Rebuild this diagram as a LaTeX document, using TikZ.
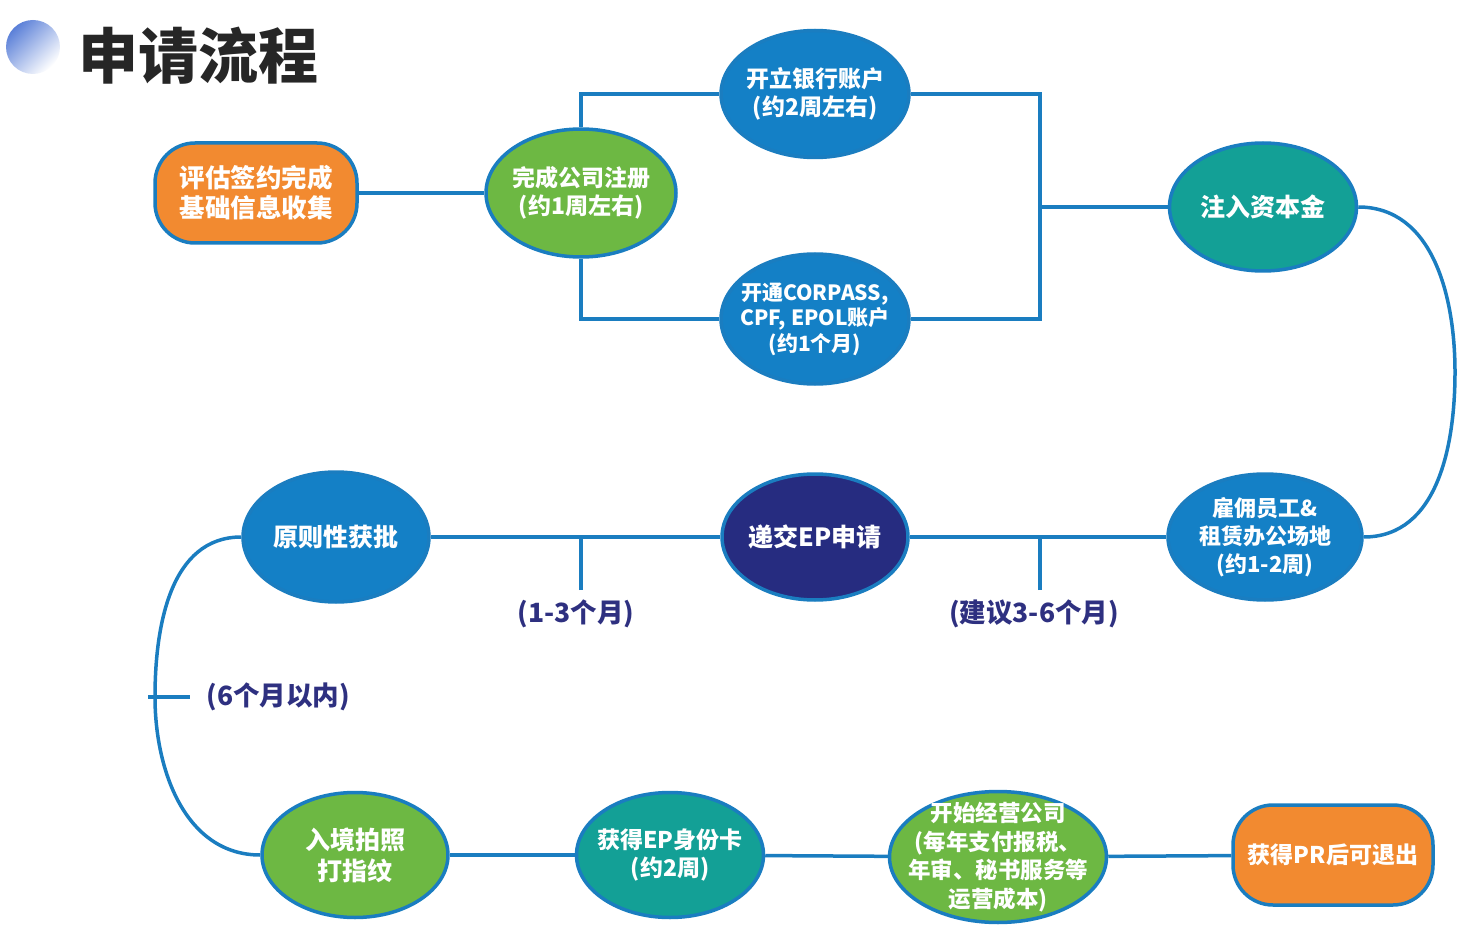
\documentclass[tikz,border=0pt]{standalone}
\usepackage{fontspec}
\setmainfont{Noto Sans CJK SC}
\newfontfamily\titlefont{Noto Sans CJK SC Black}
\usetikzlibrary{shapes.geometric}
\definecolor{lineblue}{HTML}{1A7DC0}
\definecolor{orangefill}{HTML}{F28A30}
\definecolor{greenfill}{HTML}{6DB843}
\definecolor{bluefill}{HTML}{1480C6}
\definecolor{tealfill}{HTML}{13A096}
\definecolor{navyfill}{HTML}{262C80}
\definecolor{navytext}{HTML}{2E3080}
\definecolor{titleblue}{HTML}{5B80D8}
\tikzset{
  bubble/.style={ellipse, draw=lineblue, line width=3.5pt, inner sep=-30pt, text=white,
    font=\bfseries\fontsize{23}{28}\selectfont, align=center},
  tag/.style={rectangle, rounded corners=40pt, draw=lineblue, line width=3.5pt, inner sep=0pt,
    fill=orangefill, text=white, font=\bfseries\fontsize{23}{28}\selectfont, align=center,
    minimum width=200pt, minimum height=100pt},
  link/.style={draw=lineblue, line width=3.5pt},
  span/.style={text=navytext, font=\bfseries\fontsize{26.5}{30}\selectfont}
}
\begin{document}
\begin{tikzpicture}[x=1pt,y=-1pt]
\useasboundingbox (0,0) rectangle (1476,936);
\shade[top color=titleblue, bottom color=white, shading angle=45] (33,47) circle (27);
\node[anchor=west, inner sep=0pt, font=\titlefont\fontsize{60}{62}\selectfont, text=black!85] (title) at (78,56) {申请流程};
\node[tag, minimum width=202pt, font=\bfseries\fontsize{25.5}{30}\selectfont] (n1) at (256,193) {评估签约完成\\基础信息收集};
\node[bubble, fill=greenfill, minimum width=190pt, minimum height=128pt] (n2) at (581,193) {完成公司注册\\(约1周左右)};
\node[bubble, fill=bluefill, minimum width=188pt, minimum height=127pt] (n3) at (815,94) {开立银行账户\\(约2周左右)};
\node[bubble, fill=bluefill, minimum width=188pt, minimum height=130pt, font=\bfseries\fontsize{21}{25.5}\selectfont] (n4) at (815,319) {开通CORPASS,\\CPF, EPOL账户\\(约1个月)};
\node[bubble, fill=tealfill, minimum width=187pt, minimum height=128pt, font=\bfseries\fontsize{25}{28}\selectfont] (n5) at (1263,207) {注入资本金};
\node[bubble, fill=bluefill, minimum width=194pt, minimum height=126pt, font=\bfseries\fontsize{22}{28}\selectfont] (n6) at (1265,537) {雇佣员工\&\\租赁办公场地\\(约1-2周)};
\node[bubble, fill=navyfill, minimum width=186pt, minimum height=126pt, font=\bfseries\fontsize{25}{28}\selectfont] (n7) at (815,537) {递交EP申请};
\node[bubble, fill=bluefill, minimum width=186pt, minimum height=130pt, font=\bfseries\fontsize{25}{28}\selectfont] (n8) at (336,537) {原则性获批};
\node[bubble, fill=greenfill, minimum width=186pt, minimum height=125pt, font=\bfseries\fontsize{25}{31}\selectfont] (n9) at (355,855) {入境拍照\\打指纹};
\node[bubble, fill=tealfill, minimum width=187pt, minimum height=125pt] (n10) at (670,855) {获得EP身份卡\\(约2周)};
\node[bubble, fill=greenfill, minimum width=217pt, minimum height=131pt, font=\bfseries\fontsize{22.5}{28.5}\selectfont] (n11) at (998,857) {开始经营公司\\(每年支付报税、\\年审、秘书服务等\\运营成本)};
\node[tag] (n12) at (1333,855) {获得PR后可退出};
\coordinate (join) at (1040,207);
\coordinate (rbend) at (1455,372);
\coordinate (lbend) at (155,697);
\coordinate (t1) at (581,590);
\coordinate (t2) at (1040,590);
\coordinate (t3a) at (148,697);
\coordinate (t3b) at (190,697);
\draw[link] (n1) -- (n2);
\draw[link] (n3.west) -| (n2.north);
\draw[link] (n4.west) -| (n2.south);
\draw[link] (n3.east) -| (join) |- (n4.east);
\draw[link] (join) -- (n5.west);
\draw[link] (n5.east) to[out=0,in=90] (rbend) to[out=-90,in=0] (n6.east);
\draw[link] (n6.west) -- (n7.east);
\draw[link] (n7.west) -- (n8.east);
\draw[link] (t1) -- (t1 |- n8.east);
\draw[link] (t2) -- (t2 |- n6.west);
\draw[link] (n8.west) to[out=180,in=90] (lbend) to[out=-90,in=180] (n9.west);
\draw[link] (t3a) -- (t3b);
\draw[link] (n9) -- (n10);
\draw[link] (n10) -- (n11);
\draw[link] (n11) -- (n12);
\node[span] (d1) at (576,614) {(1-3个月)};
\node[span] (d2) at (1034,614) {(建议3-6个月)};
\node[span, anchor=west] (d3) at (203,697) {(6个月以内)};
\end{tikzpicture}
\end{document}
